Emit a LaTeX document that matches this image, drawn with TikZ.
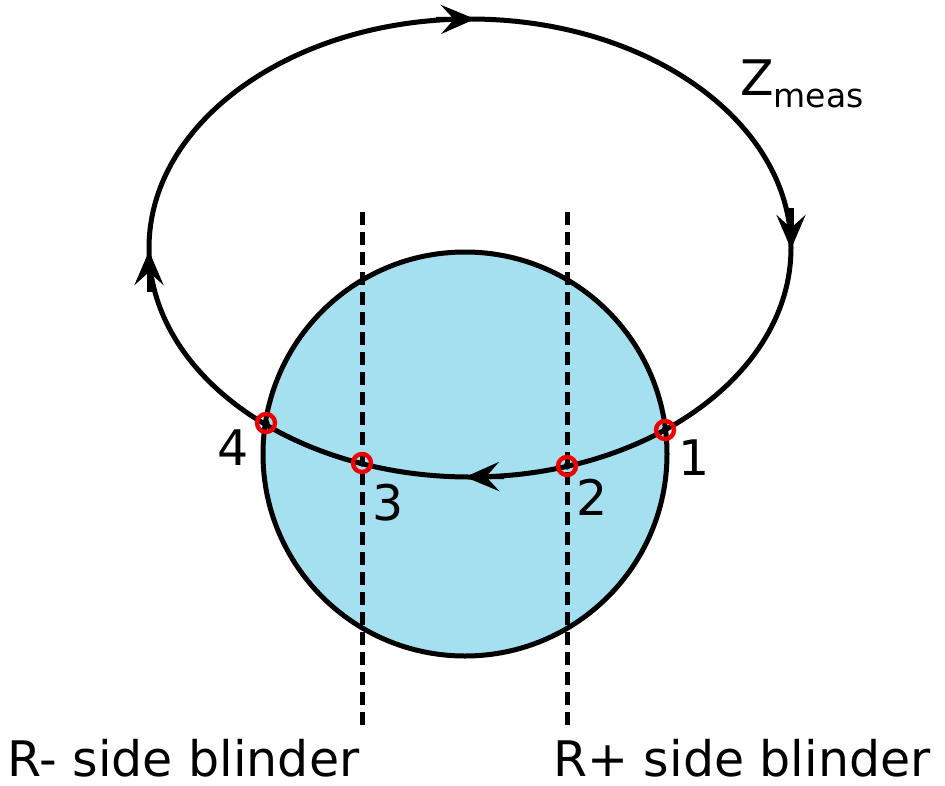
\documentclass[tikz,border=0pt]{standalone}
\usepackage{fontspec}
\setmainfont{DejaVu Sans}
\usetikzlibrary{arrows.meta}
\definecolor{zonefill}{RGB}{165,224,241}
\definecolor{ringred}{RGB}{238,0,0}
\begin{document}
\begin{tikzpicture}[x=1pt,y=-1pt,
  thick line/.style={line width=5pt},
  blinder/.style={line width=5pt, dash pattern=on 13pt off 7pt},
  ring/.style={circle, draw=ringred, line width=4.4pt, minimum size=18pt, inner sep=0pt},
  zone/.style={circle, draw, line width=5pt, fill=zonefill, minimum size=404pt, inner sep=0pt},
  lbl/.style={font=\fontsize{49}{59}\selectfont, inner sep=0pt},
  looptip/.tip={Stealth[length=34pt,width=29pt,inset=13pt]},
  flowtip/.style={thick line, -looptip, shorten >=-1pt}
]
\useasboundingbox (0,0) rectangle (945,785);
% blinders
\coordinate (bLtop) at (362,212);
\coordinate (bLbot) at (362,728);
\coordinate (bRtop) at (567,212);
\coordinate (bRbot) at (567,728);
% circle zone
\node[zone] (zonec) at (465,454) {};
\draw[blinder] (bLtop) -- (bLbot);
\draw[blinder] (bRtop) -- (bRbot);
% measured impedance loop
\coordinate (loopc) at (470,248);
\draw[thick line] (loopc) ellipse [x radius=321, y radius=229];
% direction arrows on the loop
\coordinate (aTs) at (436,19.5);  \coordinate (aTe) at (474,19);
\coordinate (aRs) at (791,208);   \coordinate (aRe) at (791,248);
\coordinate (aBs) at (504,476.5); \coordinate (aBe) at (466,477);
\coordinate (aLs) at (149,292);   \coordinate (aLe) at (149,252);
\draw[flowtip] (aTs) -- (aTe);
\draw[flowtip] (aRs) -- (aRe);
\draw[flowtip] (aBs) -- (aBe);
\draw[flowtip] (aLs) -- (aLe);
% points
\node[ring] (p1) at (665,430) {};
\node[ring] (p2) at (567,466) {};
\node[ring] (p3) at (362,463) {};
\node[ring] (p4) at (266,423) {};
\foreach \p in {p1,p2,p3,p4} \fill (\p.center) circle [radius=3.6];
% labels
\node[lbl, anchor=base] (l1) at (694,475) {1};
\node[lbl, anchor=base] (l2) at (592,515) {2};
\node[lbl, anchor=base] (l3) at (388,520) {3};
\node[lbl, anchor=base] (l4) at (233,465) {4};
\node[lbl, anchor=base west] (zm) at (740,95) {Z\raisebox{-12pt}{\fontsize{33}{40}\selectfont meas}};
\node[lbl, anchor=base west] (rminus) at (7,776) {R- side blinder};
\node[lbl, anchor=base west] (rplus) at (553,776) {R+ side blinder};
\end{tikzpicture}
\end{document}
